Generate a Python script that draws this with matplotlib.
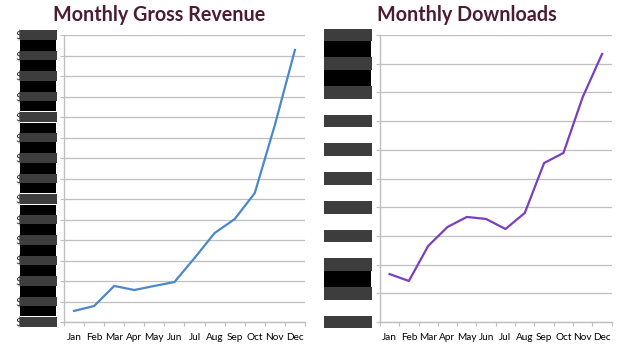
import matplotlib
matplotlib.use("Agg")
import matplotlib.pyplot as plt
import matplotlib.transforms as mtransforms
from matplotlib.patches import Rectangle

# data
months = ["Jan", "Feb", "Mar", "Apr", "May", "Jun", "Jul", "Aug", "Sep", "Oct", "Nov", "Dec"]
revenue = [0.54, 0.78, 1.76, 1.56, 1.76, 1.95, 3.12, 4.34, 5.02, 6.29, 9.61, 13.27]
downloads = [1.67, 1.43, 2.65, 3.31, 3.66, 3.59, 3.24, 3.80, 5.54, 5.89, 7.84, 9.34]
revenue_ticks = list(range(0, 15))
download_ticks = list(range(0, 11))
titles = ["Monthly Gross Revenue", "Monthly Downloads"]

TITLE_COLOR = "#4b1c34"
GRID = "#bfbfbf"

plt.rcParams["font.family"] = ["Lato", "DejaVu Sans"]


def style_axis(ax, values, ticks, color, labels):
    x = list(range(len(months)))
    ax.plot(x, values, color=color, lw=1.6, solid_joinstyle="round")
    ax.set_xlim(-0.5, len(months) - 0.5)
    ax.set_ylim(ticks[0], ticks[-1])
    # category ticks between months, labels at centres
    ax.set_xticks([i - 0.5 for i in range(len(months) + 1)])
    ax.set_xticklabels([])
    ax.set_xticks(x, minor=True)
    ax.set_xticklabels(months, minor=True, fontsize=7.2)
    ax.tick_params(axis="x", which="major", length=3, color=GRID, direction="out")
    ax.tick_params(axis="x", which="minor", length=0, pad=8)
    ax.set_yticks(ticks)
    ax.set_yticklabels(labels, fontsize=8, color="#333333")
    ax.tick_params(axis="y", length=3, color=GRID, pad=27)
    ax.grid(axis="y", color=GRID, lw=0.9)
    ax.set_axisbelow(True)
    for s in ["top", "right"]:
        ax.spines[s].set_visible(False)
    for s in ["left", "bottom"]:
        ax.spines[s].set_color(GRID)
        ax.spines[s].set_linewidth(1.0)


def redact(ax, ticks, x0, x1, black_spans):
    trans = mtransforms.blended_transform_factory(ax.transAxes, ax.transData)
    step = ticks[1] - ticks[0]
    for lo, hi in black_spans:
        ax.add_patch(Rectangle((x0, lo), x1 - x0, hi - lo, transform=trans,
                               facecolor="black", edgecolor="none", clip_on=False, zorder=5))
    for t in ticks:
        ax.add_patch(Rectangle((x0, t - 0.22 * step), x1 - x0 + 0.005, 0.44 * step, transform=trans,
                               facecolor="#3d3d3d", edgecolor="none", clip_on=False, zorder=6))


fig = plt.figure(figsize=(6.3, 3.5), dpi=100)
ax1 = fig.add_axes([0.1016, 0.08, 0.3825, 0.82])
ax2 = fig.add_axes([0.603, 0.08, 0.368, 0.82])

style_axis(ax1, revenue, revenue_ticks, "#4a88cc", ["$"] * len(revenue_ticks))
style_axis(ax2, downloads, download_ticks, "#7a3fbf", [""] * len(download_ticks))

fig.text(0.253, 0.958, titles[0], ha="center", va="center", fontsize=14.2,
         fontweight="bold", color=TITLE_COLOR)
fig.text(0.741, 0.958, titles[1], ha="center", va="center", fontsize=14.2,
         fontweight="bold", color=TITLE_COLOR)

redact(ax1, revenue_ticks, -0.183, -0.033, [(0.3, 5.7), (6.3, 9.7), (10.3, 14.0)])
redact(ax2, download_ticks, -0.241, -0.038, [(8.0, 10.0), (1.0, 2.0)])

fig.savefig("out.png", dpi=100)
